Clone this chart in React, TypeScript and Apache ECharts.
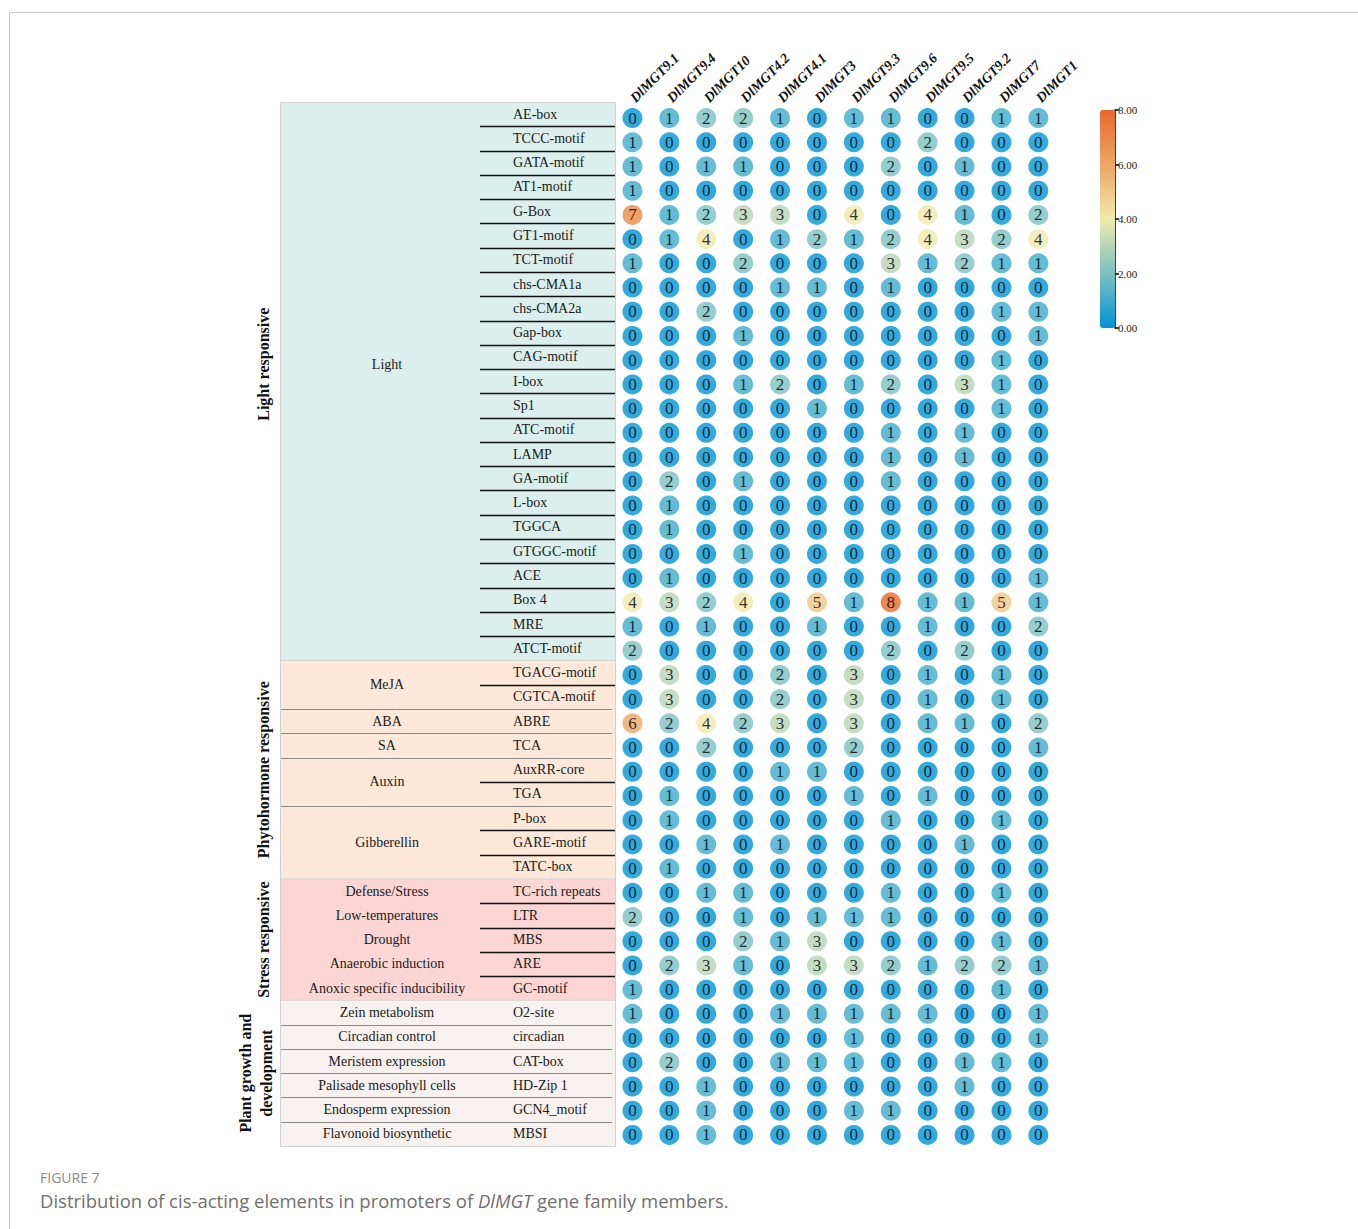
import React, { useEffect, useRef } from 'react';
import * as echarts from 'echarts';

// Gene family members (columns)
const genes = [
  'DlMGT9.1', 'DlMGT9.4', 'DlMGT10', 'DlMGT4.2', 'DlMGT4.1', 'DlMGT3',
  'DlMGT9.3', 'DlMGT9.6', 'DlMGT9.5', 'DlMGT9.2', 'DlMGT7', 'DlMGT1',
];

// Light responsive elements and their counts per gene
const lightElements = [
  'AE-box', 'TCCC-motif', 'GATA-motif', 'AT1-motif', 'G-Box', 'GT1-motif', 'TCT-motif',
  'chs-CMA1a', 'chs-CMA2a', 'Gap-box', 'CAG-motif', 'I-box', 'Sp1', 'ATC-motif', 'LAMP',
  'GA-motif', 'L-box', 'TGGCA', 'GTGGC-motif', 'ACE', 'Box 4', 'MRE', 'ATCT-motif',
];
const lightCounts = [
  [0, 1, 2, 2, 1, 0, 1, 1, 0, 0, 1, 1],
  [1, 0, 0, 0, 0, 0, 0, 0, 2, 0, 0, 0],
  [1, 0, 1, 1, 0, 0, 0, 2, 0, 1, 0, 0],
  [1, 0, 0, 0, 0, 0, 0, 0, 0, 0, 0, 0],
  [7, 1, 2, 3, 3, 0, 4, 0, 4, 1, 0, 2],
  [0, 1, 4, 0, 1, 2, 1, 2, 4, 3, 2, 4],
  [1, 0, 0, 2, 0, 0, 0, 3, 1, 2, 1, 1],
  [0, 0, 0, 0, 1, 1, 0, 1, 0, 0, 0, 0],
  [0, 0, 2, 0, 0, 0, 0, 0, 0, 0, 1, 1],
  [0, 0, 0, 1, 0, 0, 0, 0, 0, 0, 0, 1],
  [0, 0, 0, 0, 0, 0, 0, 0, 0, 0, 1, 0],
  [0, 0, 0, 1, 2, 0, 1, 2, 0, 3, 1, 0],
  [0, 0, 0, 0, 0, 1, 0, 0, 0, 0, 1, 0],
  [0, 0, 0, 0, 0, 0, 0, 1, 0, 1, 0, 0],
  [0, 0, 0, 0, 0, 0, 0, 1, 0, 1, 0, 0],
  [0, 2, 0, 1, 0, 0, 0, 1, 0, 0, 0, 0],
  [0, 1, 0, 0, 0, 0, 0, 0, 0, 0, 0, 0],
  [0, 1, 0, 0, 0, 0, 0, 0, 0, 0, 0, 0],
  [0, 0, 0, 1, 0, 0, 0, 0, 0, 0, 0, 0],
  [0, 1, 0, 0, 0, 0, 0, 0, 0, 0, 0, 1],
  [4, 3, 2, 4, 0, 5, 1, 8, 1, 1, 5, 1],
  [1, 0, 1, 0, 0, 1, 0, 0, 1, 0, 0, 2],
  [2, 0, 0, 0, 0, 0, 0, 2, 0, 2, 0, 0],
];
const lightFunctions = [{ name: 'Light', span: 23 }];

// Phytohormone responsive elements
const hormoneElements = [
  'TGACG-motif', 'CGTCA-motif', 'ABRE', 'TCA', 'AuxRR-core', 'TGA', 'P-box', 'GARE-motif', 'TATC-box',
];
const hormoneCounts = [
  [0, 3, 0, 0, 2, 0, 3, 0, 1, 0, 1, 0],
  [0, 3, 0, 0, 2, 0, 3, 0, 1, 0, 1, 0],
  [6, 2, 4, 2, 3, 0, 3, 0, 1, 1, 0, 2],
  [0, 0, 2, 0, 0, 0, 2, 0, 0, 0, 0, 1],
  [0, 0, 0, 0, 1, 1, 0, 0, 0, 0, 0, 0],
  [0, 1, 0, 0, 0, 0, 1, 0, 1, 0, 0, 0],
  [0, 1, 0, 0, 0, 0, 0, 1, 0, 0, 1, 0],
  [0, 0, 1, 0, 1, 0, 0, 0, 0, 1, 0, 0],
  [0, 1, 0, 0, 0, 0, 0, 0, 0, 0, 0, 0],
];
const hormoneFunctions = [
  { name: 'MeJA', span: 2 },
  { name: 'ABA', span: 1 },
  { name: 'SA', span: 1 },
  { name: 'Auxin', span: 2 },
  { name: 'Gibberellin', span: 3 },
];

// Stress responsive elements
const stressElements = ['TC-rich repeats', 'LTR', 'MBS', 'ARE', 'GC-motif'];
const stressCounts = [
  [0, 0, 1, 1, 0, 0, 0, 1, 0, 0, 1, 0],
  [2, 0, 0, 1, 0, 1, 1, 1, 0, 0, 0, 0],
  [0, 0, 0, 2, 1, 3, 0, 0, 0, 0, 1, 0],
  [0, 2, 3, 1, 0, 3, 3, 2, 1, 2, 2, 1],
  [1, 0, 0, 0, 0, 0, 0, 0, 0, 0, 1, 0],
];
const stressFunctions = [
  { name: 'Defense/Stress', span: 1 },
  { name: 'Low-temperatures', span: 1 },
  { name: 'Drought', span: 1 },
  { name: 'Anaerobic induction', span: 1 },
  { name: 'Anoxic specific inducibility', span: 1 },
];

// Plant growth and development elements
const growthElements = ['O2-site', 'circadian', 'CAT-box', 'HD-Zip 1', 'GCN4_motif', 'MBSI'];
const growthCounts = [
  [1, 0, 0, 0, 1, 1, 1, 1, 1, 0, 0, 1],
  [0, 0, 0, 0, 0, 0, 1, 0, 0, 0, 0, 1],
  [0, 2, 0, 0, 1, 1, 1, 0, 0, 1, 1, 0],
  [0, 0, 1, 0, 0, 0, 0, 0, 0, 1, 0, 0],
  [0, 0, 1, 0, 0, 0, 1, 1, 0, 0, 0, 0],
  [0, 0, 1, 0, 0, 0, 0, 0, 0, 0, 0, 0],
];
const growthFunctions = [
  { name: 'Zein metabolism', span: 1 },
  { name: 'Circadian control', span: 1 },
  { name: 'Meristem expression', span: 1 },
  { name: 'Palisade mesophyll cells', span: 1 },
  { name: 'Endosperm expression', span: 1 },
  { name: 'Flavonoid biosynthetic', span: 1 },
];

const groupTitles = [
  'Light responsive',
  'Phytohormone responsive',
  'Stress responsive',
  'Plant growth and\ndevelopment',
];

// Colour scale of the count legend
const scaleMin = 0;
const scaleMax = 8;
const scaleColors = ['#0095d5', '#7cc0c0', '#f0eaab', '#eda665', '#e8692b'];

const captionLabel = 'FIGURE 7';
const captionParts = ['Distribution of cis-acting elements in promoters of ', 'DlMGT', ' gene family members.'];

// ---- layout ----
const W = 1358;
const H = 1229;
const GRID_LEFT = 614;
const GRID_TOP = 106;
const CELL_W = 36.9;
const CELL_H = 24.21;
const TABLE_LEFT = 280;
const TABLE_RIGHT = 615;
const TABLE_TOP = 102;
const ROW_H = 24.28;
const SHORT_RULE_X = 480;
const NAME_X = 513;
const FUNC_X = 387;
const GROUP_X = 263;
const SERIF = '"Liberation Serif", "Times New Roman", serif';
const groupFills = ['#dbefec', '#fde8d9', '#fdd6d4', '#f7f2ef'];
const dividerStyles = ['short', 'rule', 'short', 'rule'];

function buildOption() {
  const groups = [
    { title: groupTitles[0], elements: lightElements, counts: lightCounts, functions: lightFunctions },
    { title: groupTitles[1], elements: hormoneElements, counts: hormoneCounts, functions: hormoneFunctions },
    { title: groupTitles[2], elements: stressElements, counts: stressCounts, functions: stressFunctions },
    { title: groupTitles[3], elements: growthElements, counts: growthCounts, functions: growthFunctions },
  ];
  const allElements = groups.flatMap((g) => g.elements);
  const allCounts = groups.flatMap((g) => g.counts);
  const points = allCounts.flatMap((row, r) => row.map((v, c) => [c, r, v]));

  const elements: any[] = [];
  // page frame
  elements.push({
    type: 'polyline',
    shape: { points: [[9.5, H], [9.5, 12.5], [W, 12.5]] },
    style: { stroke: '#c9c9c9', lineWidth: 1, fill: null },
    silent: true,
  });

  const tableW = TABLE_RIGHT - TABLE_LEFT;
  let row = 0;
  groups.forEach((g, gi) => {
    const top = TABLE_TOP + row * ROW_H;
    const n = g.elements.length;
    elements.push({
      type: 'rect',
      shape: { x: TABLE_LEFT, y: top, width: tableW, height: n * ROW_H },
      style: { fill: groupFills[gi] },
      silent: true,
    });
    if (gi > 0) {
      elements.push({
        type: 'line',
        shape: { x1: TABLE_LEFT, y1: top, x2: TABLE_RIGHT, y2: top },
        style: { stroke: '#d4d4d4', lineWidth: 1 },
        silent: true,
      });
    }
    // group title, rotated
    const lift = n > 20 ? 17 : 0;
    elements.push({
      type: 'text',
      x: GROUP_X - (g.title.includes('\n') ? 7 : 0),
      y: top + (n * ROW_H) / 2 - lift,
      rotation: Math.PI / 2,
      style: {
        text: g.title,
        fontFamily: SERIF,
        fontSize: 16,
        fontWeight: 'bold',
        fill: '#111',
        align: 'center',
        verticalAlign: 'middle',
        lineHeight: 21,
      },
      silent: true,
    });
    // element names
    g.elements.forEach((name, i) => {
      elements.push({
        type: 'text',
        x: NAME_X,
        y: TABLE_TOP + (row + i + 0.5) * ROW_H,
        style: {
          text: name,
          fontFamily: SERIF,
          fontSize: 14,
          fill: '#1a1a1a',
          align: 'left',
          verticalAlign: 'middle',
        },
        silent: true,
      });
    });
    // functions and dividers
    let fr = row;
    g.functions.forEach((f, fi) => {
      const fTop = TABLE_TOP + fr * ROW_H;
      elements.push({
        type: 'text',
        x: FUNC_X,
        y: fTop + (f.span * ROW_H) / 2 - lift,
        style: {
          text: f.name,
          fontFamily: SERIF,
          fontSize: 14,
          fill: '#1a1a1a',
          align: 'center',
          verticalAlign: 'middle',
        },
        silent: true,
      });
      for (let k = 1; k < f.span; k++) {
        const y = Math.round(fTop + k * ROW_H) + 0.5;
        elements.push({
          type: 'line',
          shape: { x1: SHORT_RULE_X, y1: y, x2: TABLE_RIGHT, y2: y },
          style: { stroke: '#111', lineWidth: 1.6 },
          silent: true,
        });
      }
      if (fi < g.functions.length - 1) {
        const y = Math.round(fTop + f.span * ROW_H) + 0.5;
        if (dividerStyles[gi] === 'short') {
          elements.push({
            type: 'line',
            shape: { x1: SHORT_RULE_X, y1: y, x2: TABLE_RIGHT, y2: y },
            style: { stroke: '#111', lineWidth: 1.6 },
            silent: true,
          });
        } else {
          elements.push({
            type: 'line',
            shape: { x1: TABLE_LEFT, y1: y, x2: TABLE_RIGHT - 3, y2: y },
            style: { stroke: '#8a8a8a', lineWidth: 1 },
            silent: true,
          });
        }
      }
      fr += f.span;
    });
    row += n;
  });
  // table border
  elements.push({
    type: 'rect',
    shape: { x: TABLE_LEFT + 0.5, y: TABLE_TOP + 0.5, width: tableW, height: row * ROW_H },
    style: { fill: null, stroke: '#d0d0d0', lineWidth: 1 },
    silent: true,
  });

  // caption
  elements.push({
    type: 'text',
    x: 40,
    y: 1177,
    style: {
      text: captionLabel,
      fontFamily: '"Open Sans", sans-serif',
      fontSize: 14,
      fill: '#8a8a8a',
      align: 'left',
      verticalAlign: 'middle',
    },
    silent: true,
  });
  elements.push({
    type: 'text',
    x: 40,
    y: 1200,
    style: {
      text: `{n|${captionParts[0]}}{i|${captionParts[1]}}{n|${captionParts[2]}}`,
      align: 'left',
      verticalAlign: 'middle',
      rich: {
        n: { fontFamily: '"Open Sans", sans-serif', fontSize: 18.5, fill: '#707070' },
        i: { fontFamily: '"Open Sans", sans-serif', fontSize: 18.5, fill: '#707070', fontStyle: 'italic' },
      },
    },
    silent: true,
  });

  return {
    animation: false,
    backgroundColor: '#ffffff',
    grid: [
      {
        left: GRID_LEFT,
        top: GRID_TOP,
        width: CELL_W * genes.length,
        height: CELL_H * allElements.length,
      },
      { left: 1100, top: 110, width: 15, height: 218 },
    ],
    xAxis: [
      {
        gridIndex: 0,
        type: 'category',
        data: genes,
        position: 'top',
        axisLine: { show: false },
        axisTick: { show: false },
        splitLine: { show: false },
        axisLabel: {
          interval: 0,
          rotate: -45,
          margin: 6,
          fontFamily: SERIF,
          fontStyle: 'italic',
          fontWeight: 'bold',
          fontSize: 14,
          color: '#111',
        },
      },
      { gridIndex: 1, type: 'category', data: [''], show: false },
    ],
    yAxis: [
      {
        gridIndex: 0,
        type: 'category',
        data: allElements,
        inverse: true,
        show: false,
      },
      {
        gridIndex: 1,
        type: 'value',
        min: scaleMin,
        max: scaleMax,
        interval: 2,
        position: 'right',
        axisLine: { show: true, lineStyle: { color: '#000', width: 1.5 } },
        axisTick: { show: true, length: 4, lineStyle: { color: '#000', width: 1.5 } },
        splitLine: { show: false },
        axisLabel: {
          margin: 3,
          fontFamily: SERIF,
          fontSize: 11,
          color: '#222',
          formatter: (v: number) => v.toFixed(2),
        },
      },
    ],
    visualMap: {
      type: 'continuous',
      seriesIndex: 0,
      dimension: 2,
      min: scaleMin,
      max: scaleMax,
      calculable: false,
      show: true,
      left: 1100,
      top: 110,
      padding: 0,
      itemWidth: 15,
      itemHeight: 218,
      inRange: { color: scaleColors },
    },
    graphic: { elements },
    series: [
      {
        type: 'scatter',
        xAxisIndex: 0,
        yAxisIndex: 0,
        data: points,
        symbol: 'circle',
        symbolSize: 20,
        label: {
          show: true,
          position: 'inside',
          formatter: (p: any) => String(p.value[2]),
          fontFamily: SERIF,
          fontSize: 17,
          color: '#000',
        },
        emphasis: { disabled: true },
      },
      {
        type: 'scatter',
        xAxisIndex: 1,
        yAxisIndex: 1,
        data: [],
        silent: true,
      },
    ],
  };
}

export default function App() {
  const ref = useRef<HTMLDivElement>(null);
  useEffect(() => {
    if (!ref.current) return;
    const chart = echarts.init(ref.current, undefined, { renderer: 'svg' });
    chart.setOption(buildOption() as any);
    return () => chart.dispose();
  }, []);
  return (
    <div
      ref={ref}
      style={{ position: 'absolute', left: 0, top: 0, width: W, height: H, background: '#fff' }}
    />
  );
}
